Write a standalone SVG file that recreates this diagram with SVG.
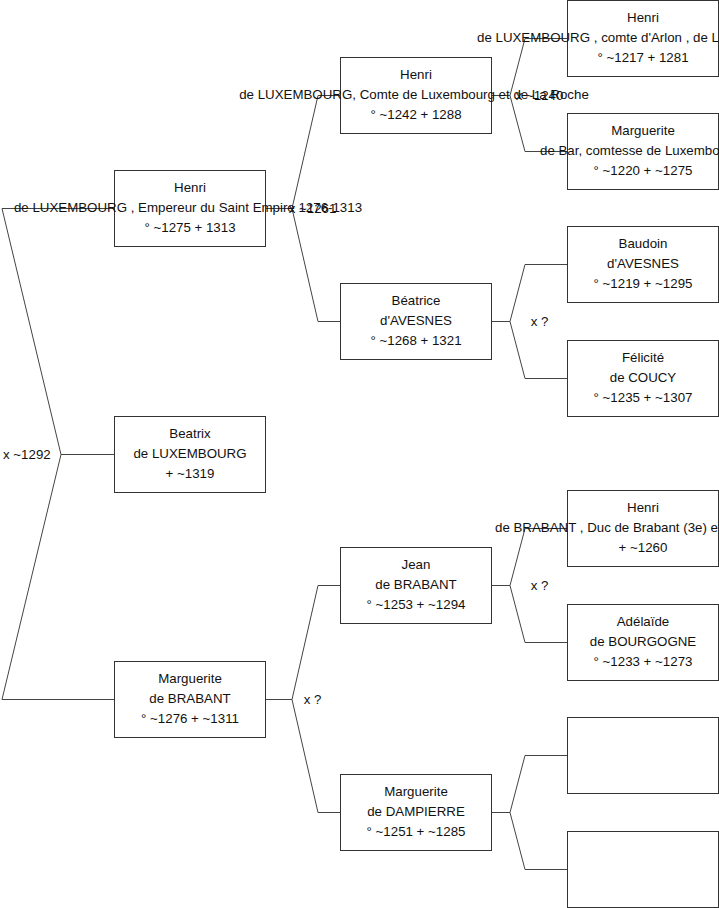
<svg xmlns="http://www.w3.org/2000/svg" width="719" height="908" viewBox="0 0 719 908">
<style>
.box{fill:#fff;stroke:#333;stroke-width:1}
.c{fill:none;stroke:#444;stroke-width:1}
text{font-family:"Liberation Sans",Arial,sans-serif;font-size:13.3px;fill:#111}
.m{text-anchor:middle}
</style>
<rect width="719" height="908" fill="#fff"/>
<g id="connectors">
<path class="c" d="M114.5 454.5 H61 M114.5 208.5 H2 L61 454.5 L2 699.5 H114.5"/>
<path class="c" d="M265.5 208.5 H292 M340.5 95.5 H318 L292 208.5 L318 321.5 H340.5"/>
<path class="c" d="M265.5 699.5 H292 M340.5 585.5 H318 L292 699.5 L318 812.5 H340.5"/>
<path class="c" d="M491.5 95.5 H510 M567.5 38.5 H525 L510 95.5 L525 151.5 H567.5"/>
<path class="c" d="M491.5 321.5 H510 M567.5 264.5 H525 L510 321.5 L525 378.5 H567.5"/>
<path class="c" d="M491.5 585.5 H510 M567.5 528.5 H525 L510 585.5 L525 642.5 H567.5"/>
<path class="c" d="M491.5 812.5 H510 M567.5 755.5 H525 L510 812.5 L525 869.5 H567.5"/>
</g>
<g id="labels">
<text x="3" y="459">x ~1292</text>
<text class="m" x="312.5" y="213">x ~1261</text>
<text class="m" x="312.5" y="704">x ?</text>
<text class="m" x="539.5" y="100">x ~1240</text>
<text class="m" x="539.5" y="326">x ?</text>
<text class="m" x="539.5" y="590">x ?</text>
</g>
<g id="n-henri-vii">
<rect class="box" x="114.5" y="170.5" width="151" height="76"/>
<text class="m" x="190" y="192">Henri</text>
<text class="m" x="188" y="212">de LUXEMBOURG , Empereur du Saint Empire 1276-1313</text>
<text class="m" x="190" y="232">° ~1275 + 1313</text>
</g>
<g id="n-beatrix">
<rect class="box" x="114.5" y="416.5" width="151" height="76"/>
<text class="m" x="190" y="438">Beatrix</text>
<text class="m" x="190" y="458">de LUXEMBOURG</text>
<text class="m" x="190" y="478">+ ~1319</text>
</g>
<g id="n-marguerite-brabant">
<rect class="box" x="114.5" y="661.5" width="151" height="76"/>
<text class="m" x="190" y="683">Marguerite</text>
<text class="m" x="190" y="703">de BRABANT</text>
<text class="m" x="190" y="723">° ~1276 + ~1311</text>
</g>
<g id="n-henri-vi">
<rect class="box" x="340.5" y="57.5" width="151" height="76"/>
<text class="m" x="416" y="79">Henri</text>
<text class="m" x="414" y="99">de LUXEMBOURG, Comte de Luxembourg et de La Roche</text>
<text class="m" x="416" y="119">° ~1242 + 1288</text>
</g>
<g id="n-beatrice">
<rect class="box" x="340.5" y="283.5" width="151" height="76"/>
<text class="m" x="416" y="305">Béatrice</text>
<text class="m" x="416" y="325">d'AVESNES</text>
<text class="m" x="416" y="345">° ~1268 + 1321</text>
</g>
<g id="n-jean">
<rect class="box" x="340.5" y="547.5" width="151" height="76"/>
<text class="m" x="416" y="569">Jean</text>
<text class="m" x="416" y="589">de BRABANT</text>
<text class="m" x="416" y="609">° ~1253 + ~1294</text>
</g>
<g id="n-marguerite-dampierre">
<rect class="box" x="340.5" y="774.5" width="151" height="76"/>
<text class="m" x="416" y="796">Marguerite</text>
<text class="m" x="416" y="816">de DAMPIERRE</text>
<text class="m" x="416" y="836">° ~1251 + ~1285</text>
</g>
<g id="n-henri-v">
<rect class="box" x="567.5" y="0.5" width="151" height="76"/>
<text class="m" x="643" y="22">Henri</text>
<text x="477" y="42">de LUXEMBOURG , comte d'Arlon , de L</text>
<text class="m" x="643" y="62">° ~1217 + 1281</text>
</g>
<g id="n-marguerite-bar">
<rect class="box" x="567.5" y="113.5" width="151" height="76"/>
<text class="m" x="643" y="135">Marguerite</text>
<text x="540" y="155">de Bar, comtesse de Luxembo</text>
<text class="m" x="643" y="175">° ~1220 + ~1275</text>
</g>
<g id="n-baudoin">
<rect class="box" x="567.5" y="226.5" width="151" height="76"/>
<text class="m" x="643" y="248">Baudoin</text>
<text class="m" x="643" y="268">d'AVESNES</text>
<text class="m" x="643" y="288">° ~1219 + ~1295</text>
</g>
<g id="n-felicite">
<rect class="box" x="567.5" y="340.5" width="151" height="76"/>
<text class="m" x="643" y="362">Félicité</text>
<text class="m" x="643" y="382">de COUCY</text>
<text class="m" x="643" y="402">° ~1235 + ~1307</text>
</g>
<g id="n-henri-brabant">
<rect class="box" x="567.5" y="490.5" width="151" height="76"/>
<text class="m" x="643" y="512">Henri</text>
<text x="495" y="532">de BRABANT , Duc de Brabant (3e) e</text>
<text class="m" x="643" y="552">+ ~1260</text>
</g>
<g id="n-adelaide">
<rect class="box" x="567.5" y="604.5" width="151" height="76"/>
<text class="m" x="643" y="626">Adélaïde</text>
<text class="m" x="643" y="646">de BOURGOGNE</text>
<text class="m" x="643" y="666">° ~1233 + ~1273</text>
</g>
<g id="n-empty-1">
<rect class="box" x="567.5" y="717.5" width="151" height="76"/>
</g>
<g id="n-empty-2">
<rect class="box" x="567.5" y="831.5" width="151" height="76"/>
</g>
</svg>
